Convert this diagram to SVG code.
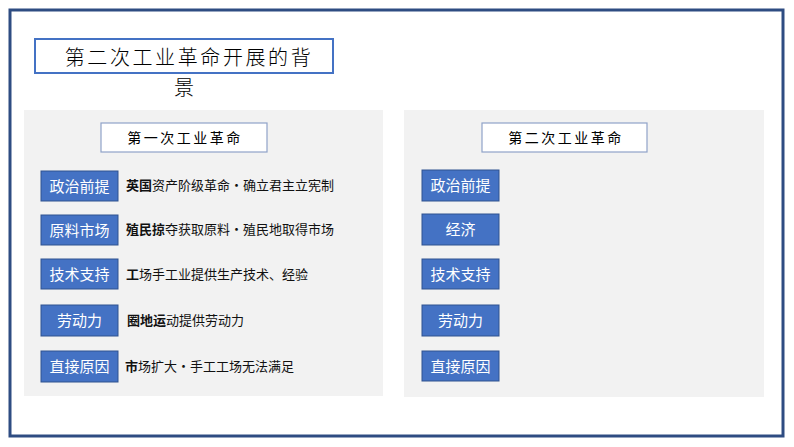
<svg xmlns="http://www.w3.org/2000/svg" width="794" height="447" viewBox="0 0 794 447">
<style>
.cjk{font-family:"Noto Sans CJK SC","Noto Sans",sans-serif}
.panel{fill:#F2F2F2}
.hdr{fill:#FFFFFF;stroke:#8FA2C8;stroke-width:1.2}
.hdrt{font-size:14px;fill:#000;letter-spacing:2.5px;text-anchor:middle}
.box{fill:#4472C4;stroke:#2F528F;stroke-width:1}
.boxt{font-size:15px;fill:#FFFFFF;text-anchor:middle}
.desc{font-size:13px;fill:#111}
.b{font-weight:bold}
</style>
<rect width="794" height="447" fill="#FFFFFF"/>
<rect id="frame" x="10" y="10" width="773" height="426" fill="none" stroke="#2E4C82" stroke-width="3"/>
<g id="title">
<rect x="35" y="39" width="298" height="34" fill="#FFFFFF" stroke="#4472C4" stroke-width="2"/>
<text class="cjk" x="189" y="65" font-size="20" font-weight="300" letter-spacing="2.6" text-anchor="middle" fill="#000">第二次工业革命开展的背</text>
<text class="cjk" x="184" y="95" font-size="20" font-weight="300" text-anchor="middle" fill="#000">景</text>
</g>
<g id="left-panel">
<rect class="panel" x="24" y="110" width="359" height="286"/>
<g id="left-header">
<rect class="hdr" x="101" y="123" width="166" height="29"/>
<text class="cjk hdrt" x="185" y="143">第一次工业革命</text>
</g>
<g id="l1"><rect class="box" x="41" y="171" width="77" height="30"/><text class="cjk boxt" x="79.5" y="191.5">政治前提</text></g>
<g id="l2"><rect class="box" x="41" y="215" width="77" height="30"/><text class="cjk boxt" x="79.5" y="235.5">原料市场</text></g>
<g id="l3"><rect class="box" x="41" y="259" width="77" height="30"/><text class="cjk boxt" x="79.5" y="279.5">技术支持</text></g>
<g id="l4"><rect class="box" x="41" y="305" width="77" height="31"/><text class="cjk boxt" x="79.5" y="326">劳动力</text></g>
<g id="l5"><rect class="box" x="41" y="351" width="77" height="31"/><text class="cjk boxt" x="79.5" y="372">直接原因</text></g>
<g id="d1"><text class="cjk desc" x="126" y="190"><tspan class="b">英国</tspan>资产阶级革命·确立君主立宪制</text></g>
<g id="d2"><text class="cjk desc" x="126" y="234"><tspan class="b">殖民掠</tspan>夺获取原料·殖民地取得市场</text></g>
<g id="d3"><text class="cjk desc" x="126" y="279"><tspan class="b">工</tspan>场手工业提供生产技术、经验</text></g>
<g id="d4"><text class="cjk desc" x="127" y="325"><tspan class="b">圈地运</tspan>动提供劳动力</text></g>
<g id="d5"><text class="cjk desc" x="125" y="371"><tspan class="b">市</tspan>场扩大·手工工场无法满足</text></g>
</g>
<g id="right-panel">
<rect class="panel" x="404" y="110" width="360" height="287"/>
<g id="right-header">
<rect class="hdr" x="482" y="123" width="165" height="29"/>
<text class="cjk hdrt" x="566" y="143">第二次工业革命</text>
</g>
<g id="r1"><rect class="box" x="422" y="170" width="77" height="31"/><text class="cjk boxt" x="460.5" y="191">政治前提</text></g>
<g id="r2"><rect class="box" x="422" y="214" width="77" height="31"/><text class="cjk boxt" x="460.5" y="235">经济</text></g>
<g id="r3"><rect class="box" x="422" y="259" width="77" height="30"/><text class="cjk boxt" x="460.5" y="279.5">技术支持</text></g>
<g id="r4"><rect class="box" x="422" y="305" width="77" height="31"/><text class="cjk boxt" x="460.5" y="326">劳动力</text></g>
<g id="r5"><rect class="box" x="422" y="351" width="77" height="30"/><text class="cjk boxt" x="460.5" y="371.5">直接原因</text></g>
</g>
<g id="connectors"/>
</svg>
